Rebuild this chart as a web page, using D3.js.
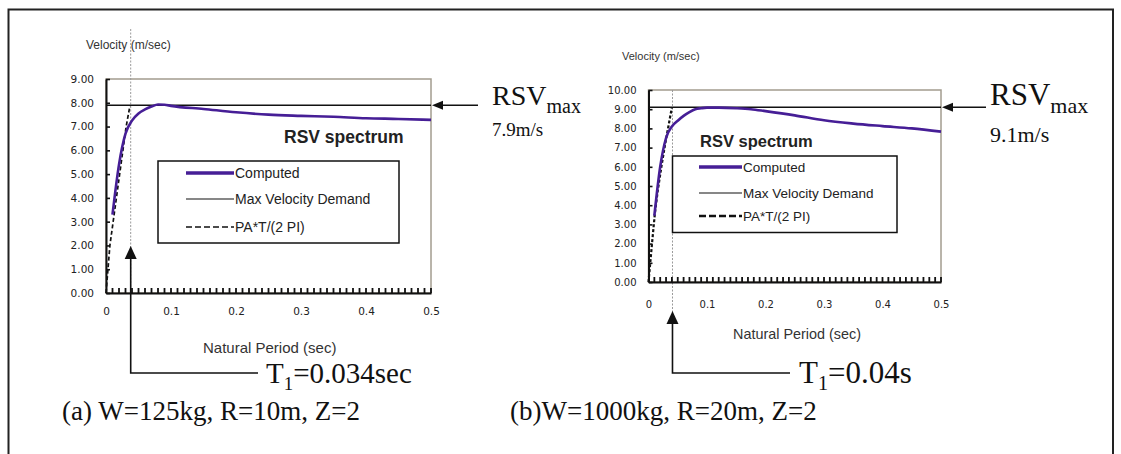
<!DOCTYPE html>
<html>
<head>
<meta charset="utf-8">
<script src="https://cdn.jsdelivr.net/npm/d3@7"></script>
<style>
  body { margin: 0; background: #fff; }
  svg { display: block; }
</style>
</head>
<body>
<svg id="fig" width="1121" height="454"></svg>
<script>
// --- data ---
var periodA   = [0.01, 0.02, 0.03, 0.04, 0.05, 0.06, 0.07, 0.08, 0.09, 0.10, 0.15, 0.20, 0.25, 0.30, 0.35, 0.40, 0.45, 0.50];
var computedA = [3.30, 5.40, 6.70, 7.25, 7.55, 7.72, 7.84, 7.93, 7.92, 7.87, 7.74, 7.60, 7.50, 7.45, 7.41, 7.35, 7.32, 7.28];
var paPeriodA = [0, 0.003, 0.006, 0.011, 0.016, 0.021, 0.026, 0.031, 0.037];
var paValueA  = [0, 1.0, 2.0, 3.0, 4.0, 5.0, 6.0, 7.0, 7.9];
var rsvMaxA = 7.9, markerA = 0.038;

var periodB   = [0.01, 0.02, 0.03, 0.04, 0.05, 0.06, 0.07, 0.08, 0.09, 0.10, 0.12, 0.15, 0.175, 0.20, 0.25, 0.30, 0.35, 0.40, 0.45, 0.50];
var computedB = [3.45, 6.00, 7.50, 8.10, 8.40, 8.65, 8.85, 9.00, 9.05, 9.08, 9.08, 9.05, 9.00, 8.90, 8.68, 8.42, 8.25, 8.12, 8.00, 7.83];
var paPeriodB = [0, 0.003, 0.006, 0.011, 0.016, 0.022, 0.028, 0.034, 0.040];
var paValueB  = [0, 1.0, 2.0, 3.6, 4.8, 6.0, 7.1, 8.1, 9.1];
var rsvMaxB = 9.1, markerB = 0.041;

var xTicks = [0, 0.1, 0.2, 0.3, 0.4, 0.5];
var xMinorTicks = [0.01, 0.02, 0.03, 0.04, 0.05, 0.06, 0.07, 0.08, 0.09, 0.10,
                   0.11, 0.12, 0.13, 0.14, 0.15, 0.16, 0.17, 0.18, 0.19, 0.20,
                   0.21, 0.22, 0.23, 0.24, 0.25, 0.26, 0.27, 0.28, 0.29, 0.30,
                   0.31, 0.32, 0.33, 0.34, 0.35, 0.36, 0.37, 0.38, 0.39, 0.40,
                   0.41, 0.42, 0.43, 0.44, 0.45, 0.46, 0.47, 0.48, 0.49, 0.50];
var legendNames = ["Computed", "Max Velocity Demand", "PA*T/(2 PI)"];

var purple = "#461e96";
var serif = "'Liberation Serif', 'Times New Roman', serif";
var sans = "'Liberation Sans', Arial, sans-serif";

var svg = d3.select("#fig");
svg.append("rect").attr("width", 1121).attr("height", 454).attr("fill", "#fff");
svg.append("rect")
  .attr("x", 8.5).attr("y", 9.5).attr("width", 1104.5).attr("height", 470)
  .attr("fill", "none").attr("stroke", "#222").attr("stroke-width", 2);

function arrowHead(g, x, y, dir, len, half){
  // dir: 'up' or 'left', tip at (x,y)
  var pts = dir == 'up'
    ? [[x, y], [x - half, y + len], [x + half, y + len]]
    : [[x, y], [x + len, y - half], [x + len, y + half]];
  g.append("path").attr("d", "M" + pts.join("L") + "Z").attr("fill", "#111");
}

function drawChart(c){
  var g = svg.append("g");
  var x = d3.scaleLinear().domain([0, 0.5]).range([c.x0, c.x1]);
  var y = d3.scaleLinear().domain([0, c.yMax]).range([c.y0, c.y1]);

  // plot frame
  g.append("rect")
    .attr("x", c.x0).attr("y", c.y1)
    .attr("width", c.x1 - c.x0).attr("height", c.y0 - c.y1)
    .attr("fill", "none").attr("stroke", "#a39c8f").attr("stroke-width", 1.5);

  // gray marker line at T1
  g.append("line")
    .attr("x1", x(c.marker)).attr("x2", x(c.marker))
    .attr("y1", c.markTop).attr("y2", c.markBottom)
    .attr("stroke", "#9a9a9a").attr("stroke-width", 1).attr("stroke-dasharray", "2,1.5");

  // y axis
  var yAxis = d3.axisLeft(y).tickValues(d3.range(0, c.yMax + 1, 1))
    .tickSizeInner(-4).tickSizeOuter(0).tickPadding(12).tickFormat(d3.format(".2f"));
  var ya = g.append("g").attr("transform", "translate(" + c.x0 + ",0)").call(yAxis);
  ya.select(".domain").attr("stroke", "#111").attr("stroke-width", 2);
  ya.selectAll(".tick line").attr("stroke", "#111").attr("stroke-width", 1.6);
  ya.selectAll("text").attr("font-family", "'DejaVu Sans', sans-serif")
    .attr("font-size", c.tickFont).attr("fill", "#222");

  // x axis: labels at 0.1, minor ticks every 0.01 pointing inside
  var xAxis = d3.axisBottom(x).tickValues(xTicks).tickSize(0).tickPadding(c.xPad)
    .tickFormat(function(d){ return d === 0 ? "0" : d3.format(".1f")(d); });
  var xa = g.append("g").attr("transform", "translate(0," + c.y0 + ")").call(xAxis);
  xa.select(".domain").attr("stroke", "#111").attr("stroke-width", 2);
  xa.selectAll("text").attr("font-family", "'DejaVu Sans', sans-serif")
    .attr("font-size", c.tickFont).attr("fill", "#222");
  var minor = g.append("g");
  xMinorTicks.forEach(function(d){
    minor.append("rect")
      .attr("x", x(d) - 0.9).attr("y", c.y0 - 5)
      .attr("width", 1.8).attr("height", 5)
      .attr("fill", "#111");
  });

  // axis titles
  g.append("text").attr("x", c.yTitleX).attr("y", c.yTitleY).attr("dy", "0.35em")
    .attr("font-family", sans).attr("font-size", c.yTitleFont).attr("fill", "#333")
    .text("Velocity (m/sec)");
  g.append("text").attr("x", c.xTitleX).attr("y", c.xTitleY).attr("dy", "0.35em")
    .attr("font-family", sans).attr("font-size", c.xTitleFont).attr("fill", "#333")
    .text("Natural Period (sec)");

  // max velocity demand
  g.append("line").attr("x1", c.x0).attr("x2", c.x1)
    .attr("y1", y(c.rsvMax)).attr("y2", y(c.rsvMax))
    .attr("stroke", "#111").attr("stroke-width", 1.5);

  // PA*T/(2 PI)
  var line = d3.line().x(function(d){ return x(d[0]); }).y(function(d){ return y(d[1]); });
  g.append("path").datum(d3.zip(c.paT, c.paV)).attr("d", line)
    .attr("fill", "none").attr("stroke", "#111")
    .attr("stroke-width", c.dashW).attr("stroke-dasharray", c.dash);

  // computed
  var curve = d3.line().curve(d3.curveMonotoneX)
    .x(function(d){ return x(d[0]); }).y(function(d){ return y(d[1]); });
  g.append("path").datum(d3.zip(c.period, c.computed)).attr("d", curve)
    .attr("fill", "none").attr("stroke", purple).attr("stroke-width", 2.6);

  // title inside plot
  g.append("text").attr("x", c.specX).attr("y", c.specY).attr("dy", "0.35em")
    .attr("font-family", sans).attr("font-weight", "bold").attr("font-size", c.specFont)
    .attr("fill", "#222").text("RSV spectrum");

  // legend
  var L = c.legend;
  g.append("rect").attr("x", L.x).attr("y", L.y).attr("width", L.w).attr("height", L.h)
    .attr("fill", "#fff").attr("stroke", "#111").attr("stroke-width", 1.5);
  var styles = [
    {stroke: purple, w: 3.5, dash: null},
    {stroke: "#111", w: 1.2, dash: null},
    {stroke: "#111", w: c.legDashW, dash: c.legDash}
  ];
  legendNames.forEach(function(name, i){
    var yy = L.rows[i];
    g.append("line").attr("x1", L.lx0).attr("x2", L.lx1).attr("y1", yy).attr("y2", yy)
      .attr("stroke", styles[i].stroke).attr("stroke-width", styles[i].w)
      .attr("stroke-dasharray", styles[i].dash);
    g.append("text").attr("x", L.lx1 + 1).attr("y", yy).attr("dy", "0.35em")
      .attr("font-family", sans).attr("font-size", L.font).attr("fill", "#222").text(name);
  });

  // RSVmax arrow and label
  var ym = y(c.rsvMax);
  g.append("line").attr("x1", c.x1 + 8).attr("x2", c.x1 + c.arrowLen)
    .attr("y1", ym).attr("y2", ym).attr("stroke", "#111").attr("stroke-width", 1.5);
  arrowHead(g, c.x1 + 1, ym, 'left', 11, 4.5);
  var t = g.append("text").attr("x", c.rsvX).attr("y", c.rsvY)
    .attr("font-family", serif).attr("font-size", c.rsvFont).attr("fill", "#111");
  t.append("tspan").text("RSV");
  t.append("tspan").attr("dy", 8).attr("font-size", c.rsvSub).text("max");
  g.append("text").attr("x", c.rsvX).attr("y", c.valY)
    .attr("font-family", serif).attr("font-size", c.valFont).attr("fill", "#111")
    .text(d3.format(".1f")(c.rsvMax) + "m/s");

  // T1 arrow and label
  var xt = x(c.marker);
  g.append("path")
    .attr("d", "M" + xt + "," + (c.arrowTip + 10) + "L" + xt + "," + c.elbowY + "L" + c.elbowX + "," + c.elbowY)
    .attr("fill", "none").attr("stroke", "#111").attr("stroke-width", 1.6);
  arrowHead(g, xt, c.arrowTip, 'up', 13, 6);
  var tt = g.append("text").attr("x", c.t1X).attr("y", c.t1Y)
    .attr("font-family", serif).attr("font-size", c.t1Font).attr("fill", "#111");
  tt.append("tspan").text("T");
  tt.append("tspan").attr("dy", 7).attr("font-size", c.t1Font * 0.65).text("1");
  tt.append("tspan").attr("dy", -7).text(c.t1Text);

  // caption
  svg.append("text").attr("x", c.capX).attr("y", 420)
    .attr("font-family", serif).attr("font-size", 27).attr("fill", "#111").text(c.caption);
}

drawChart({
  x0: 106, x1: 431, y0: 293, y1: 79, yMax: 9,
  period: periodA, computed: computedA, paT: paPeriodA, paV: paValueA,
  rsvMax: rsvMaxA, marker: markerA, markTop: 29, markBottom: 293,
  tickFont: 10.5, xPad: 15,
  yTitleX: 86, yTitleY: 45, yTitleFont: 12,
  xTitleX: 203, xTitleY: 348, xTitleFont: 15,
  dash: "4,2.5", dashW: 1.7, legDash: "6,3", legDashW: 1.5,
  specX: 284, specY: 137, specFont: 17.5,
  legend: {x: 158, y: 161, w: 241, h: 82, lx0: 186, lx1: 234, rows: [173, 199, 227], font: 14},
  arrowLen: 47, rsvX: 492, rsvY: 105, rsvFont: 28, rsvSub: 20, valY: 136, valFont: 19,
  arrowTip: 246, elbowY: 373, elbowX: 258,
  t1X: 266, t1Y: 383, t1Font: 29, t1Text: "=0.034sec",
  capX: 62, caption: "(a) W=125kg, R=10m, Z=2"
});

drawChart({
  x0: 648.5, x1: 941, y0: 282, y1: 90, yMax: 10,
  period: periodB, computed: computedB, paT: paPeriodB, paV: paValueB,
  rsvMax: rsvMaxB, marker: markerB, markTop: 90, markBottom: 312,
  tickFont: 10, xPad: 19,
  yTitleX: 622, yTitleY: 56, yTitleFont: 11,
  xTitleX: 733, xTitleY: 334, xTitleFont: 14.4,
  dash: "3,2", dashW: 2.2, legDash: "7,3", legDashW: 2.6,
  specX: 700, specY: 141, specFont: 16.5,
  legend: {x: 672.5, y: 156, w: 224.5, h: 76.5, lx0: 699, lx1: 742, rows: [167, 193, 216], font: 13.5},
  arrowLen: 45, rsvX: 990, rsvY: 105, rsvFont: 31, rsvSub: 22, valY: 142, valFont: 22,
  arrowTip: 311, elbowY: 373, elbowX: 790,
  t1X: 799, t1Y: 383, t1Font: 31, t1Text: "=0.04s",
  capX: 510, caption: "(b)W=1000kg, R=20m, Z=2"
});
</script>
</body>
</html>
